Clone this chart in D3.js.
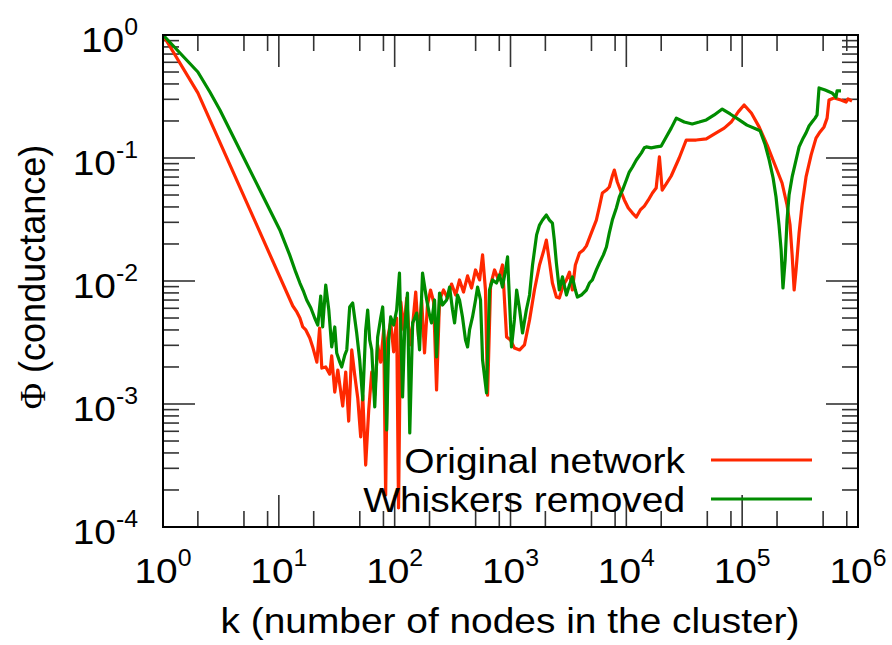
<!DOCTYPE html>
<html>
<head>
<meta charset="utf-8">
<script src="https://cdnjs.cloudflare.com/ajax/libs/d3/7.8.5/d3.min.js"></script>
<style>
body { margin: 0; background: #fff; }
text { font-family: "Liberation Sans", Arial, Helvetica, sans-serif; fill: #000; }
</style>
</head>
<body>
<svg id="chart" width="892" height="645"></svg>
<script>
// cluster size k and conductance
const origK = [1, 2.00, 13.2, 14.3, 15.2, 16.1, 17.1, 18.5, 19.6, 21.3, 22.5, 23.5, 25.4, 27.5, 28.6, 30.4, 32.3, 33.6, 35.6, 37.8,
    40.1, 42.6, 45.2, 48.0, 50.9, 53.0, 56.2, 59.7, 63.4, 67.3, 71.3, 75.7, 80.4, 83.6, 87.0, 92.4, 98.0, 104, 108, 113,
    120, 127, 135, 143, 152, 161, 171, 181, 192, 204, 217, 230, 244, 264, 286, 310, 336, 363, 393, 426,
    461, 499, 541, 574, 608, 634, 673, 728, 788, 853, 925, 1000, 1080, 1200, 1320, 1460, 1610, 1780, 1920, 2040,
    2170, 2300, 2490, 2640, 2860, 3040, 3230, 3420, 3630, 3940, 4260, 4520, 4990, 5510, 5850, 6210, 6730, 7130, 7570, 7880,
    8360, 8880, 9610, 10400, 11300, 12200, 13200, 14300, 15500, 16800, 18100, 19300, 20400, 22100, 24400, 28600, 32900, 40100, 49000, 59700,
    70000, 80400, 92500, 104000, 120000, 140000, 164000, 192000, 221000, 244000, 259000, 270000, 281000, 292000, 310000, 329000, 356000, 394000, 434000, 470000,
    509000, 541000, 562000, 621000, 713000, 788000, 820000, 888000];
const origPhi = [1, 0.338, 0.00626, 0.00560, 0.00500, 0.00423, 0.00400, 0.00344, 0.00291, 0.00219, 0.00415, 0.00196, 0.00200, 0.00175, 0.00246, 0.00125, 0.00189, 0.00143, 0.000963, 0.00182,
    0.000727, 0.00275, 0.00172, 0.00112, 0.000540, 0.00118, 0.000319, 0.000893, 0.00182, 0.00118, 0.00302, 0.00219, 0.00400, 0.000182, 0.00344, 0.00464, 0.00265, 0.00500, 0.000143, 0.00675,
    0.00400, 0.00727, 0.00302, 0.00439, 0.00814, 0.00344, 0.00701, 0.00260, 0.00638, 0.00845, 0.00675, 0.00130, 0.00701, 0.00845, 0.00727, 0.00945, 0.00769, 0.0102, 0.00814, 0.0110,
    0.00877, 0.0123, 0.0102, 0.0163, 0.00845, 0.00118, 0.00927, 0.0123, 0.0102, 0.0135, 0.00351, 0.00331, 0.00285, 0.00275, 0.00302, 0.00482, 0.00845, 0.0135, 0.0172, 0.0215,
    0.0143, 0.00963, 0.00741, 0.00727, 0.00927, 0.0102, 0.0118, 0.00845, 0.0135, 0.0169, 0.0179, 0.0193, 0.0246, 0.0313, 0.0400, 0.0519, 0.0549, 0.0581, 0.0714, 0.0798,
    0.0638, 0.0549, 0.0456, 0.0392, 0.0357, 0.0331, 0.0378, 0.0407, 0.0456, 0.0519, 0.0570, 0.102, 0.0549, 0.0615, 0.0714, 0.100, 0.140, 0.140, 0.143, 0.160,
    0.175, 0.196, 0.237, 0.270, 0.232, 0.179, 0.128, 0.0877, 0.0626, 0.0415, 0.0285, 0.0163, 0.00845, 0.0123, 0.0246, 0.0415, 0.0701, 0.106, 0.145, 0.163,
    0.179, 0.211, 0.296, 0.307, 0.296, 0.285, 0.302, 0.291];

const whiskK = [1, 2.00, 2.54, 3.10, 4.61, 6.86, 10.2, 12.4, 14.0, 15.2, 16.4, 17.4, 18.9, 20.4, 21.7, 23.0, 23.9, 25.4, 27.0, 28.6,
    30.4, 31.6, 33.6, 34.9, 37.1, 38.6, 40.9, 43.4, 47.0, 49.9, 53.0, 56.2, 58.5, 60.9, 63.4, 67.3, 71.3, 75.7, 78.8, 82.0,
    85.3, 88.8, 92.4, 98.0, 104, 110, 117, 122, 129, 135, 143, 155, 164, 174, 189, 200, 208, 221, 230, 244,
    259, 281, 298, 316, 329, 349, 363, 385, 409, 426, 443, 470, 499, 520, 551, 574, 621, 659, 700, 757,
    804, 853, 906, 943, 980, 1020, 1080, 1130, 1200, 1270, 1370, 1460, 1550, 1680, 1780, 1890, 2040, 2170, 2300, 2390,
    2490, 2640, 2810, 3040, 3230, 3420, 3630, 3780, 4090, 4520, 4800, 5090, 5510, 5850, 6340, 6730, 7130, 7570, 8200, 8700,
    9420, 10000, 10600, 11300, 12200, 13500, 14300, 14900, 16400, 18100, 20000, 22100, 24400, 27000, 31600, 37100, 42600, 49000, 57400, 67300,
    78800, 94300, 110000, 132000, 143000, 158000, 171000, 185000, 196000, 208000, 217000, 225000, 235000, 244000, 254000, 270000, 292000, 310000, 336000, 356000,
    378000, 401000, 426000, 443000, 461000, 520000, 597000, 646000, 659000, 713000];
const whiskPhi = [1, 0.500, 0.344, 0.246, 0.116, 0.0549, 0.0260, 0.0163, 0.0118, 0.00963, 0.00814, 0.00701, 0.00603, 0.00500, 0.00439, 0.00755, 0.00423, 0.00927, 0.00581, 0.00291,
    0.00423, 0.00260, 0.00219, 0.00200, 0.00250, 0.00275, 0.00615, 0.00662, 0.00378, 0.00228, 0.00108, 0.00400, 0.00581, 0.00331, 0.00275, 0.000945, 0.00351, 0.00500, 0.00615, 0.00275,
    0.000615, 0.00331, 0.00510, 0.00439, 0.00581, 0.0116, 0.00114, 0.00400, 0.00799, 0.000581, 0.00456, 0.00549, 0.00275, 0.0116, 0.00701, 0.00529, 0.00456, 0.00701, 0.00241, 0.00799,
    0.00638, 0.00701, 0.00893, 0.00581, 0.00456, 0.00769, 0.00701, 0.00510, 0.00331, 0.00291, 0.00400, 0.00510, 0.00701, 0.00893, 0.00701, 0.00228, 0.00123, 0.00845, 0.0102, 0.00963,
    0.0112, 0.00893, 0.0123, 0.0157, 0.00701, 0.00291, 0.00482, 0.00845, 0.00581, 0.00378, 0.00581, 0.00769, 0.0135, 0.0237, 0.0285, 0.0313, 0.0344, 0.0313, 0.0296, 0.0215,
    0.0140, 0.00845, 0.0108, 0.00769, 0.00927, 0.0108, 0.00845, 0.00741, 0.00769, 0.00845, 0.00963, 0.0102, 0.0123, 0.0140, 0.0163, 0.0189, 0.0246, 0.0313, 0.0392, 0.0482,
    0.0570, 0.0662, 0.0769, 0.0845, 0.0964, 0.110, 0.121, 0.123, 0.121, 0.123, 0.125, 0.148, 0.175, 0.211, 0.196, 0.189, 0.196, 0.204, 0.224, 0.250,
    0.228, 0.204, 0.185, 0.172, 0.166, 0.128, 0.0964, 0.0688, 0.0482, 0.0285, 0.0179, 0.00877, 0.0148, 0.0313, 0.0500, 0.0701, 0.0964, 0.123, 0.145, 0.160,
    0.182, 0.196, 0.211, 0.224, 0.371, 0.357, 0.338, 0.313, 0.351, 0.351];

const seriesNames = ["Original network", "Whiskers removed"];
const seriesColors = ["#ff2800", "#008c00"];
const xPowers = [0, 1, 2, 3, 4, 5, 6];
const yPowers = [0, -1, -2, -3, -4];
const xMinorMult = [2, 5, 8];
const yMinorMult = [2, 3, 4, 5, 6, 7, 8, 9];

const svg = d3.select("#chart");
const plotL = 163, plotR = 858, plotT = 35, plotB = 527;
const stretch = 1.08; // the lettering in the picture is a bit wider than Liberation Sans

const x = d3.scaleLog().domain([1, 1e6]).range([plotL, plotR]);
const y = d3.scaleLog().domain([1e-4, 1]).range([plotB, plotT]);

svg.append("defs").append("clipPath").attr("id", "plot-clip")
    .append("rect")
    .attr("x", plotL).attr("y", plotT)
    .attr("width", plotR - plotL).attr("height", plotB - plotT);

// ticks, inward on all four sides
const xMajor = xPowers.map(p => Math.pow(10, p));
const xMinor = xPowers.slice(0, -1).flatMap(p => xMinorMult.map(m => m * Math.pow(10, p)));
const yMajor = yPowers.map(p => Math.pow(10, p));
const yMinor = yPowers.slice(1).flatMap(p => yMinorMult.map(m => m * Math.pow(10, p)));

const ticks = svg.append("g").attr("stroke", "#333").attr("stroke-width", 1.6);
function xTicks(vals, len) {
    vals.forEach(v => {
        ticks.append("line").attr("x1", x(v)).attr("x2", x(v)).attr("y1", plotB).attr("y2", plotB - len);
        ticks.append("line").attr("x1", x(v)).attr("x2", x(v)).attr("y1", plotT).attr("y2", plotT + len);
    });
}
function yTicks(vals, len) {
    vals.forEach(v => {
        ticks.append("line").attr("y1", y(v)).attr("y2", y(v)).attr("x1", plotL).attr("x2", plotL + len);
        ticks.append("line").attr("y1", y(v)).attr("y2", y(v)).attr("x1", plotR).attr("x2", plotR - len);
    });
}
xTicks(xMajor, 32);
xTicks(xMinor, 16);
yTicks(yMajor, 32);
yTicks(yMinor, 16);

// curves
const line = d3.line()
    .x(d => x(d[0]))
    .y(d => y(d[1]));

const plot = svg.append("g").attr("clip-path", "url(#plot-clip)");
[[origK, origPhi], [whiskK, whiskPhi]].forEach((s, i) => {
    plot.append("path")
        .datum(d3.zip(s[0], s[1]))
        .attr("d", line)
        .attr("fill", "none")
        .attr("stroke", seriesColors[i])
        .attr("stroke-width", 3.2)
        .attr("stroke-linejoin", "round");
});

// frame
svg.append("rect")
    .attr("x", plotL).attr("y", plotT)
    .attr("width", plotR - plotL).attr("height", plotB - plotT)
    .attr("fill", "none")
    .attr("stroke", "#000")
    .attr("stroke-width", 2);

// horizontal text, slightly widened
function wideText(px, py, anchor) {
    return svg.append("text")
        .attr("transform", `translate(${px},${py}) scale(${stretch},1)`)
        .attr("text-anchor", anchor)
        .style("font-size", "36px");
}

// tick labels: 10 with a raised exponent
function powerLabel(t, p) {
    t.append("tspan").text("10");
    t.append("tspan").attr("dy", -17).style("font-size", "23px").text(p);
}

xPowers.forEach(p => powerLabel(wideText(x(Math.pow(10, p)), 583, "middle"), p));
yPowers.forEach(p => powerLabel(wideText(138, y(Math.pow(10, p)) + 17, "end"), p));

// axis titles
wideText(510, 633, "middle").text("k (number of nodes in the cluster)");

const yTitle = svg.append("text")
    .attr("transform", "translate(45,277) rotate(-90)")
    .attr("text-anchor", "middle")
    .style("font-size", "36px");
yTitle.append("tspan").style("font-family", "'Liberation Serif', 'DejaVu Serif', serif").text("\u03A6");
yTitle.append("tspan").text(" (conductance)");

// legend
seriesNames.forEach((name, i) => {
    const ly = 460 + i * 39;
    wideText(685, ly + 13, "end").text(name);
    svg.append("line")
        .attr("x1", 711).attr("x2", 812)
        .attr("y1", ly).attr("y2", ly)
        .attr("stroke", seriesColors[i])
        .attr("stroke-width", 3.2);
});
</script>
</body>
</html>
